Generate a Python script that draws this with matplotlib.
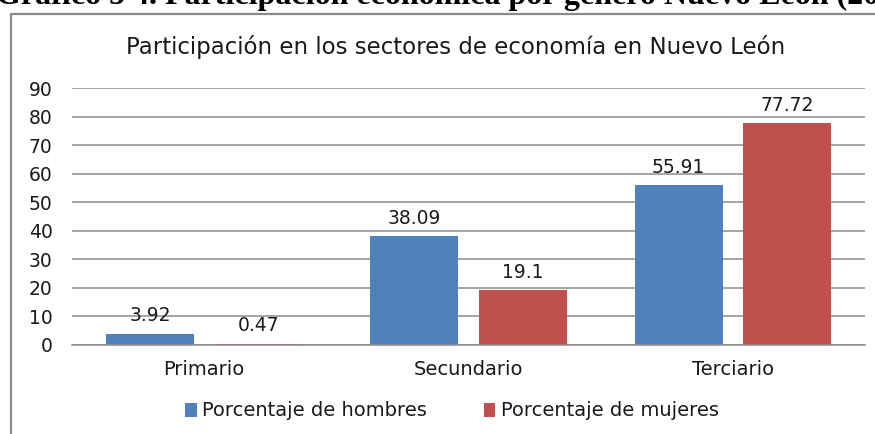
import matplotlib
matplotlib.use("Agg")
import matplotlib.pyplot as plt
from matplotlib.patches import Rectangle
import numpy as np

categories = ["Primario", "Secundario", "Terciario"]
hombres = [3.92, 38.09, 55.91]
mujeres = [0.47, 19.1, 77.72]
series_names = ["Porcentaje de hombres", "Porcentaje de mujeres"]
yticks = [0, 10, 20, 30, 40, 50, 60, 70, 80, 90]

BLUE = "#4F81BD"
RED = "#C0504D"
GRID = "#8C8C8C"
TXT = "#1A1A1A"

W, H = 875, 434
fig = plt.figure(figsize=(W / 100, H / 100), dpi=100)

# outer document caption, mostly cut off at the top edge
fig.text(-0.004, 1 - 4 / H, "Gráfico 5 4. Participación económica por género Nuevo León (2010)",
         family="Liberation Serif", weight="bold", fontsize=23, va="baseline", ha="left")

# chart frame (runs off the right and bottom edges)
fig.patches.append(Rectangle((11 / W, -0.1), 1.2, 1.1 - 14 / H,
                             transform=fig.transFigure, fill=False,
                             edgecolor="#8A8A8A", lw=1.6))

ax = fig.add_axes([72 / W, 1 - 345 / H, (865 - 72) / W, (345 - 88) / H])
x = np.arange(len(categories))
bw = 0.333
off = 0.205
b1 = ax.bar(x - off, hombres, bw, color=BLUE, label=series_names[0])
b2 = ax.bar(x + off, mujeres, bw, color=RED, label=series_names[1])

for bars, vals in ((b1, hombres), (b2, mujeres)):
    for r, v in zip(bars, vals):
        ax.annotate(f"{v:g}", (r.get_x() + r.get_width() / 2, v),
                    xytext=(0, 6), textcoords="offset points",
                    ha="center", va="bottom", fontsize=13.5, color=TXT,
                    family="DejaVu Sans")

ax.set_xlim(-0.5, 2.5)
ax.set_ylim(0, 90)
ax.set_yticks(yticks)
ax.yaxis.grid(True, color=GRID, lw=1.1)
ax.set_axisbelow(True)
for s in ("left", "right", "top"):
    ax.spines[s].set_visible(False)
ax.spines["bottom"].set_color(GRID)
ax.spines["bottom"].set_linewidth(1.1)
ax.tick_params(length=0)
ax.tick_params(axis="y", pad=14, labelsize=13.5, labelcolor=TXT)
ax.tick_params(axis="x", pad=11, labelsize=14, labelcolor=TXT)
ax.set_xticks(x)
ax.set_xticklabels(categories)

fig.text(456 / W, 1 - 47 / H, "Participación en los sectores de economía en Nuevo León",
         ha="center", va="center", fontsize=16.5, color=TXT, family="DejaVu Sans")

fig.legend(handles=[b1, b2], loc="center", bbox_to_anchor=(452 / W, 1 - 411 / H),
           ncol=2, frameon=False, fontsize=14, handlelength=0.6, handleheight=0.7,
           handletextpad=0.3, columnspacing=2.9, labelcolor=TXT)

fig.savefig("out.png", dpi=100)
